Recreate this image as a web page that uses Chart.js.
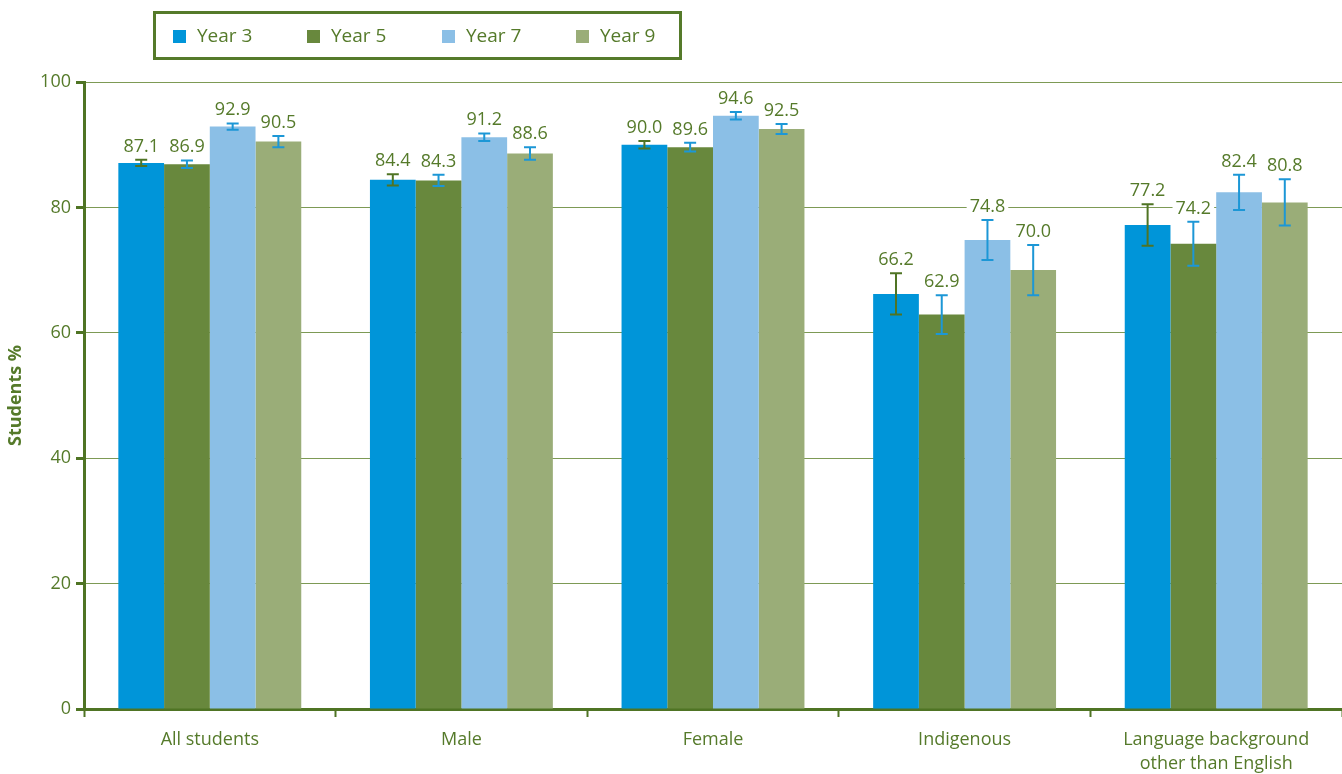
<!DOCTYPE html>
<html>
<head>
<meta charset="utf-8">
<script src="https://cdn.jsdelivr.net/npm/chart.js@4"></script>
<style>
html,body{margin:0;padding:0;background:#fff;}
#wrap{width:1342px;height:774px;position:relative;}
</style>
</head>
<body>
<div id="wrap"><canvas id="c" width="1342" height="774"></canvas></div>
<script>
const categories = ['All students', 'Male', 'Female', 'Indigenous', ['Language background', 'other than English']];
const seriesLabels = ['Year 3', 'Year 5', 'Year 7', 'Year 9'];
const year3 = [87.1, 84.4, 90.0, 66.2, 77.2];
const year5 = [86.9, 84.3, 89.6, 62.9, 74.2];
const year7 = [92.9, 91.2, 94.6, 74.8, 82.4];
const year9 = [90.5, 88.6, 92.5, 70.0, 80.8];
const err3 = [0.5, 0.9, 0.6, 3.3, 3.3];
const err5 = [0.6, 0.9, 0.7, 3.1, 3.5];
const err7 = [0.5, 0.6, 0.6, 3.2, 2.8];
const err9 = [0.9, 1.0, 0.8, 4.0, 3.7];
const yTicks = [0, 20, 40, 60, 80, 100];
const yTitle = 'Students %';

const barColors = ['#0095d9', '#68883d', '#8bbfe6', '#9aad78'];
const errColors = ['#4f7424', '#1c97d6', '#1c97d6', '#1c97d6'];
const green = '#557a2a';
const FONT = '"Open Sans", "Noto Sans", sans-serif';

const seriesValues = [year3, year5, year7, year9];
const seriesErrors = [err3, err5, err7, err9];

const errorBarPlugin = {
  id: 'errorBars',
  afterDatasetsDraw(chart) {
    const ctx = chart.ctx;
    const y = chart.scales.y;
    chart.data.datasets.forEach((ds, i) => {
      const meta = chart.getDatasetMeta(i);
      meta.data.forEach((bar, j) => {
        const v = ds.data[j];
        const e = ds.errors[j];
        const top = y.getPixelForValue(v + e);
        const bot = y.getPixelForValue(v - e);
        const x = bar.x;
        ctx.save();
        ctx.strokeStyle = ds.errorColor;
        ctx.lineWidth = 2;
        ctx.beginPath();
        ctx.moveTo(x, top); ctx.lineTo(x, bot);
        ctx.moveTo(x - 6, top); ctx.lineTo(x + 6, top);
        ctx.moveTo(x - 6, bot); ctx.lineTo(x + 6, bot);
        ctx.stroke();
        const txt = v.toFixed(1);
        ctx.font = '18px ' + FONT;
        const w = ctx.measureText(txt).width;
        const by = top - 8;
        ctx.fillStyle = '#ffffff';
        ctx.fillRect(x - w / 2 - 3, by - 15, w + 6, 18);
        ctx.fillStyle = green;
        ctx.textAlign = 'center';
        ctx.textBaseline = 'alphabetic';
        ctx.fillText(txt, x, by);
        ctx.restore();
      });
    });
  }
};

const legendPlugin = {
  id: 'boxLegend',
  afterDraw(chart) {
    const ctx = chart.ctx;
    ctx.save();
    ctx.strokeStyle = '#557a2a';
    ctx.lineWidth = 3;
    ctx.strokeRect(154.5, 12.5, 526, 46);
    const xs = [173, 307, 442, 576];
    ctx.font = '19px ' + FONT;
    ctx.textBaseline = 'middle';
    ctx.textAlign = 'left';
    chart.data.datasets.forEach((ds, i) => {
      ctx.fillStyle = ds.backgroundColor;
      ctx.fillRect(xs[i], 30, 13, 13);
      ctx.fillStyle = green;
      ctx.fillText(ds.label, xs[i] + 24, 37);
    });
    ctx.restore();
  }
};

new Chart(document.getElementById('c'), {
  type: 'bar',
  data: {
    labels: categories,
    datasets: seriesLabels.map((lab, i) => ({
      label: lab,
      data: seriesValues[i],
      errors: seriesErrors[i],
      errorColor: errColors[i],
      backgroundColor: barColors[i],
      borderWidth: 0,
      categoryPercentage: 0.727,
      barPercentage: 1.0
    }))
  },
  options: {
    responsive: false,
    animation: false,
    devicePixelRatio: 1,
    layout: { padding: { top: 82, right: 0, left: 0, bottom: 0 } },
    plugins: { legend: { display: false }, tooltip: { enabled: false } },
    scales: {
      x: {
        afterFit(s) { s.height = 65; },
        grid: { display: true, drawOnChartArea: false, offset: true, tickLength: 8, tickColor: '#4f7424', tickWidth: 2 },
        border: { display: true, color: '#4f7424', width: 3 },
        ticks: { color: green, font: { family: FONT, size: 18, lineHeight: 1.33 }, padding: 11, maxRotation: 0, autoSkip: false }
      },
      y: {
        min: 0, max: 100,
        afterBuildTicks(s) { s.ticks = yTicks.map(v => ({ value: v })); },
        afterFit(s) { s.width = 84; },
        grid: { color: '#7d9a55', lineWidth: 1, tickLength: 8, tickColor: '#4f7424', tickWidth: 3, drawTicks: true },
        border: { display: true, color: '#4f7424', width: 3 },
        ticks: { color: green, font: { family: FONT, size: 18 }, padding: 5 },
        title: { display: true, text: yTitle, color: green, font: { family: FONT, size: 18, weight: 'bold' }, padding: { top: 5, bottom: 0 } }
      }
    }
  },
  plugins: [errorBarPlugin, legendPlugin]
});
</script>
</body>
</html>
